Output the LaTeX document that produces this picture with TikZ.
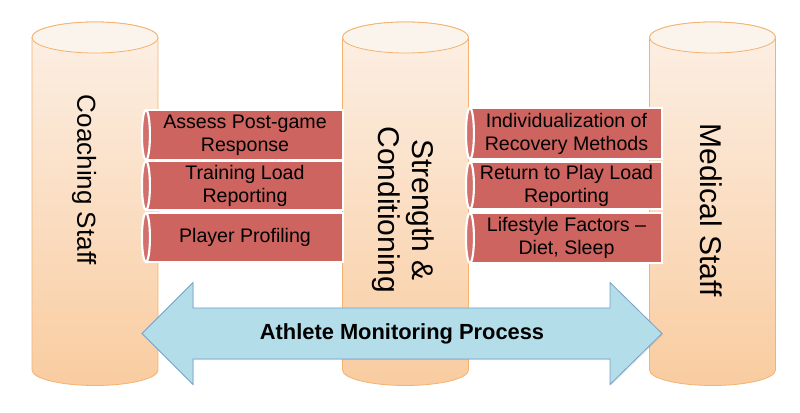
\documentclass[tikz,border=0pt]{standalone}
\usepackage{fontspec}
\setmainfont{Liberation Sans}
\usetikzlibrary{shadows}
\definecolor{cyltop}{RGB}{252,240,230}
\definecolor{cylbot}{RGB}{249,204,160}
\definecolor{cylline}{RGB}{244,178,110}
\definecolor{captop}{RGB}{251,244,237}
\definecolor{boxred}{RGB}{205,100,95}
\definecolor{arrowfill}{RGB}{178,221,233}
\definecolor{arrowline}{RGB}{122,160,200}
\begin{document}
\begin{tikzpicture}[x=0.75pt,y=0.75pt,
  vcyl/.style={draw=cylline, line width=0.6pt, top color=cyltop, bottom color=cylbot},
  capface/.style={draw=cylline, line width=0.6pt, fill=captop},
  hbody/.style={draw=white, line width=1.6pt, fill=boxred, inner sep=0pt,
    font=\fontsize{14.7}{17.25}\selectfont, align=center,
    drop shadow={shadow xshift=0.8pt, shadow yshift=-0.8pt, opacity=0.25}},
  hcap/.style={draw=white, line width=1.6pt, fill=boxred!92!white},
  vlabel/.style={rotate=-90, align=center, inner sep=0pt},
  arrowshape/.style={draw=arrowline, line width=0.6pt, fill=arrowfill,
    drop shadow={shadow xshift=0.8pt, shadow yshift=-0.8pt, opacity=0.2}}
]
\useasboundingbox (0,0) rectangle (800,413);
% vertical cylinders
\foreach \cx/\nm in {95/cL,405.5/cM,712.5/cR}{
  \path[vcyl] (\cx-63,43) arc[start angle=180, end angle=360, x radius=63, y radius=15.5]
    -- (\cx+63,375.5) arc[start angle=0, end angle=180, x radius=63, y radius=15.5] -- cycle;
  \path[capface] (\cx,375.5) ellipse[x radius=63, y radius=15.5];
  \coordinate (\nm) at (\cx,209);
}
% labels on the vertical cylinders
\node[vlabel, font=\fontsize{19.5}{22}\selectfont] (coach) at (84,233) {Coaching Staff};
\node[vlabel, font=\fontsize{22.5}{25.5}\selectfont] (sc) at (403,203) {Strength \&\\Conditioning};
\node[vlabel, font=\fontsize{22.5}{25.5}\selectfont] (med) at (711,203) {Medical Staff};
% left group of horizontal cylinders
\node[hbody, minimum width=196*0.75pt, minimum height=50*0.75pt] (l1) at (245,278) {Assess Post-game\\Response};
\path[hcap] (l1.west) ellipse[x radius=4, y radius=25];
\node[hbody, minimum width=196*0.75pt, minimum height=49*0.75pt] (l2) at (245,227.5) {Training Load\\Reporting};
\path[hcap] (l2.west) ellipse[x radius=4, y radius=24.5];
\node[hbody, minimum width=196*0.75pt, minimum height=49*0.75pt] (l3) at (245,175.5) {Player Profiling};
\path[hcap] (l3.west) ellipse[x radius=4, y radius=24.5];
% right group of horizontal cylinders
\node[hbody, minimum width=191*0.75pt, minimum height=51*0.75pt] (r1) at (566.5,279.5) {Individualization of\\Recovery Methods};
\path[hcap] (r1.west) ellipse[x radius=4, y radius=25.5];
\node[hbody, minimum width=191*0.75pt, minimum height=47*0.75pt] (r2) at (566.5,227.5) {Return to Play Load\\Reporting};
\path[hcap] (r2.west) ellipse[x radius=4, y radius=23.5];
\node[hbody, minimum width=191*0.75pt, minimum height=50*0.75pt] (r3) at (566.5,175) {Lifestyle Factors –\\Diet, Sleep};
\path[hcap] (r3.west) ellipse[x radius=4, y radius=25];
% double arrow
\coordinate (tipL) at (142,79.5);
\coordinate (tipR) at (662,79.5);
\path[arrowshape] (tipL) -- (193,130.5) -- (193,105) -- (610,105) -- (610,130.5) -- (tipR)
  -- (610,28.5) -- (610,54) -- (193,54) -- (193,28.5) -- cycle;
\node[font=\bfseries\fontsize{16.4}{19}\selectfont, inner sep=0pt] (amp) at (402,79.5) {Athlete Monitoring Process};
\end{tikzpicture}
\end{document}
